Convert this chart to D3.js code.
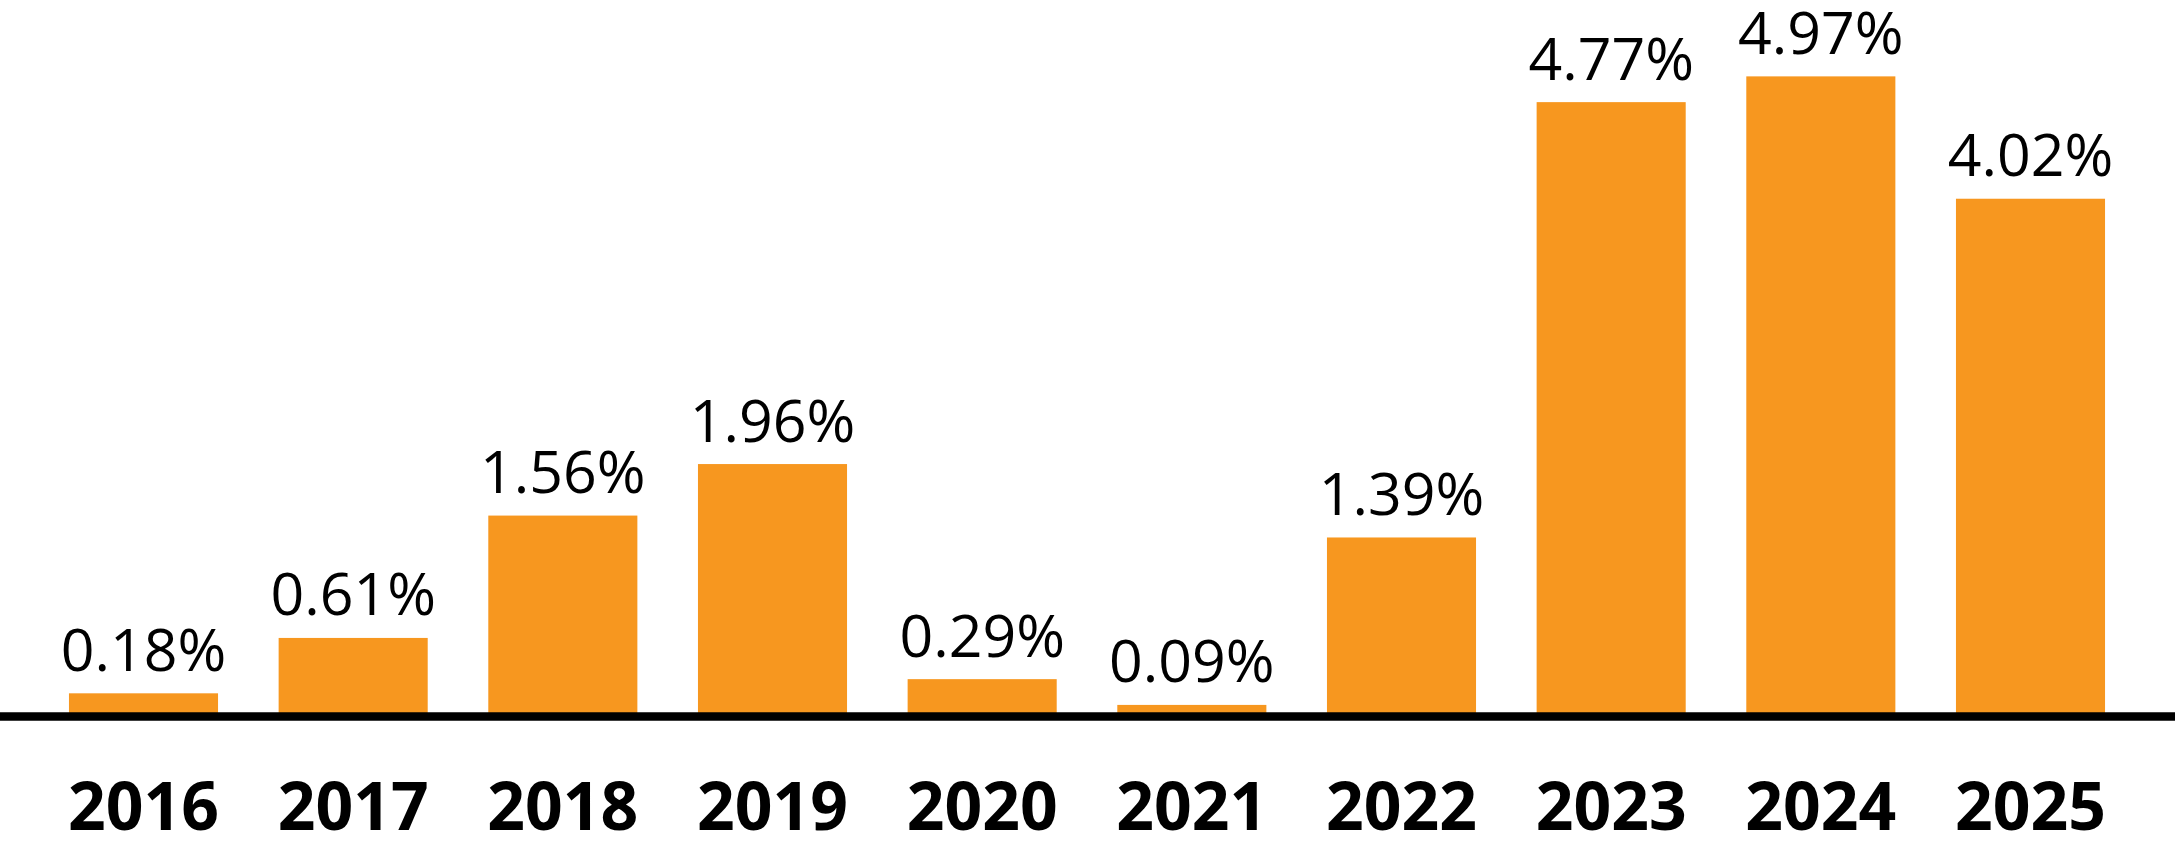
<!DOCTYPE html>
<html>
<head>
<meta charset="utf-8">
<script src="https://cdn.jsdelivr.net/npm/d3@7"></script>
<style>
  html, body { margin: 0; padding: 0; background: #fff; }
  svg { display: block; }
</style>
</head>
<body>
<svg id="chart" width="2175" height="842"></svg>
<script>
const years = ["2016","2017","2018","2019","2020","2021","2022","2023","2024","2025"];
const values = [0.18, 0.61, 1.56, 1.96, 0.29, 0.09, 1.39, 4.77, 4.97, 4.02];
const valueLabels = ["0.18%","0.61%","1.56%","1.96%","0.29%","0.09%","1.39%","4.77%","4.97%","4.02%"];

const W = 2175, H = 842;
const baseY = 716.5;
const svg = d3.select("#chart");

const x = d3.scaleBand()
  .domain(years)
  .range([38.67, 2135.33])
  .paddingInner(0.289)
  .paddingOuter(0.1445);

const y = d3.scaleLinear()
  .domain([0, 5.563])
  .range([baseY, 0]);

// bars
svg.selectAll("rect.bar")
  .data(years)
  .enter().append("rect")
  .attr("class", "bar")
  .attr("x", d => x(d))
  .attr("width", x.bandwidth())
  .attr("y", (d, i) => y(values[i]))
  .attr("height", (d, i) => baseY - y(values[i]))
  .attr("fill", "#F7971F");

// baseline
svg.append("line")
  .attr("x1", 0).attr("x2", W)
  .attr("y1", baseY).attr("y2", baseY)
  .attr("stroke", "#000")
  .attr("stroke-width", 8.5);

// value labels
svg.selectAll("text.val")
  .data(years)
  .enter().append("text")
  .attr("class", "val")
  .attr("x", d => x(d) + x.bandwidth() / 2)
  .attr("y", (d, i) => y(values[i]) - 22.5)
  .attr("text-anchor", "middle")
  .attr("font-family", "'Open Sans', sans-serif")
  .attr("font-size", 59)
  .attr("fill", "#000")
  .text((d, i) => valueLabels[i]);

// year labels (x axis)
const xAxis = d3.axisBottom(x).tickSize(0).tickPadding(0);
const axisG = svg.append("g")
  .attr("transform", `translate(0, 830)`)
  .call(xAxis);
axisG.select(".domain").remove();
axisG.selectAll("text")
  .attr("dy", 0)
  .attr("y", 0)
  .attr("font-family", "'Open Sans', sans-serif")
  .attr("font-weight", "bold")
  .attr("font-size", 66)
  .attr("fill", "#000");
</script>
</body>
</html>
